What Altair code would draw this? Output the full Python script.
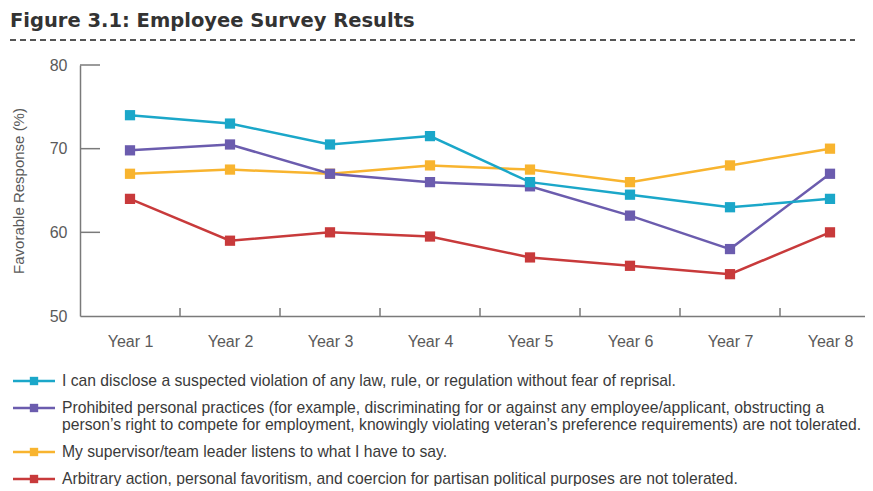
import json
import altair as alt
import pandas as pd

# ---- data ----
years = ["Year 1", "Year 2", "Year 3", "Year 4", "Year 5", "Year 6", "Year 7", "Year 8"]

series_names = [
    "I can disclose a suspected violation of any law, rule, or regulation without fear of reprisal.",
    "Prohibited personal practices (for example, discriminating for or against any employee/applicant, obstructing a\nperson\u2019s right to compete for employment, knowingly violating veteran\u2019s preference requirements) are not tolerated.",
    "My supervisor/team leader listens to what I have to say.",
    "Arbitrary action, personal favoritism, and coercion for partisan political purposes are not tolerated.",
]
series_colors = ["#1ba7c9", "#6b5cae", "#f8b42f", "#c83a3b"]

disclose = [74, 73, 70.5, 71.5, 66, 64.5, 63, 64]
prohibited = [69.8, 70.5, 67, 66, 65.5, 62, 58, 67]
supervisor = [67, 67.5, 67, 68, 67.5, 66, 68, 70]
arbitrary = [64, 59, 60, 59.5, 57, 56, 55, 60]

y_ticks = [50, 60, 70, 80]

title_text = "Figure 3.1: Employee Survey Results"
y_title = "Favorable Response (%)"

# ---- tables ----
values_by_series = [disclose, prohibited, supervisor, arbitrary]
rows = []
# draw order: red, yellow, purple, teal (teal on top)
for idx in [3, 2, 1, 0]:
    for k, (yr, v) in enumerate(zip(years, values_by_series[idx])):
        rows.append({"series": series_names[idx], "year": yr, "pos": k + 1, "value": v})
df = pd.DataFrame(rows)

W, H = 785, 251
AXIS_GRAY = "#7a7a7a"
TEXT_GRAY = "#5a5a5a"
AX_FONT = "Liberation Sans"
LEG_FONT = "Liberation Sans"

xscale = alt.Scale(domain=[0.5, 8.35], nice=False, zero=False)
yscale = alt.Scale(domain=[50, 80], nice=False, zero=False)
cscale = alt.Scale(domain=series_names, range=series_colors)

label_expr = json.dumps(years) + "[datum.value - 1]"
x_enc = alt.X("pos:Q", scale=xscale,
              axis=alt.Axis(values=list(range(1, len(years) + 1)), labelExpr=label_expr,
                            title=None, ticks=False, grid=False, labelPadding=17,
                            labelFontSize=16, labelColor=TEXT_GRAY, labelFont=AX_FONT,
                            domainColor=AXIS_GRAY, domainWidth=1.5, labelAngle=0,
                            labelFlush=False, labelOverlap=False))
y_enc = alt.Y("value:Q", scale=yscale,
              axis=alt.Axis(values=y_ticks, ticks=False, grid=False, labelPadding=13,
                            labelFontSize=16, labelColor=TEXT_GRAY, labelFont=AX_FONT,
                            domainColor=AXIS_GRAY, domainWidth=1.5,
                            title=y_title, titleFontSize=15, titleFontWeight="normal",
                            titleColor=TEXT_GRAY, titleFont=AX_FONT,
                            titleX=-62, titleY=H / 2, titleAlign="center",
                            titleBaseline="middle", titleAngle=-90))
c_enc = alt.Color("series:N", scale=cscale, legend=None)

base = alt.Chart(df)
lines = base.mark_line(strokeWidth=2.5).encode(x=x_enc, y=y_enc, color=c_enc, detail="series:N")
points = base.mark_square(size=105, opacity=1).encode(
    x=alt.X("pos:Q", scale=xscale), y=alt.Y("value:Q", scale=yscale), color=c_enc)

# inward y ticks
ytick_df = pd.DataFrame({"value": y_ticks[1:]})
yticks = alt.Chart(ytick_df).mark_rule(color=AXIS_GRAY, strokeWidth=1.5).encode(
    y=alt.Y("value:Q", scale=yscale), x=alt.value(0), x2=alt.value(20))

# upward x ticks between the year categories
xtick_df = pd.DataFrame({"pos": [k + 1.5 for k in range(len(years) - 1)]})
xticks = alt.Chart(xtick_df).mark_rule(color=AXIS_GRAY, strokeWidth=1.5).encode(
    x=alt.X("pos:Q", scale=xscale), y=alt.value(H - 8), y2=alt.value(H))

# title and dashed rule under it
one = pd.DataFrame({"t": [title_text]})
title = alt.Chart(one).mark_text(align="left", baseline="alphabetic", fontSize=19.5,
                                 fontWeight="bold", font="DejaVu Sans", color="#333333").encode(
    text="t:N", x=alt.value(-70), y=alt.value(-38))
dash = alt.Chart(one).mark_rule(
    color="#555555", strokeWidth=2, strokeDash=[6, 4]).encode(
    x=alt.value(-70), x2=alt.value(775), y=alt.value(-25))

# custom legend
legend_layers = []
LEG_Y0 = 316
ROW = 27
LINE_H = 17
offset = 0
for i, name in enumerate(series_names):
    yy = LEG_Y0 + i * ROW + offset
    ldf = pd.DataFrame({"series": [name]})
    lc = alt.Chart(ldf)
    legend_layers.append(lc.mark_rule(strokeWidth=2.5).encode(
        color=c_enc, x=alt.value(-67), x2=alt.value(-25), y=alt.value(yy)))
    legend_layers.append(lc.mark_square(size=70, opacity=1).encode(
        color=c_enc, x=alt.value(-46), y=alt.value(yy)))
    legend_layers.append(lc.mark_text(align="left", baseline="middle", lineBreak="\n",
                                      lineHeight=LINE_H, fontSize=15.7, color="#3a3a3a",
                                      font=LEG_FONT).encode(
        text="series:N", x=alt.value(-18), y=alt.value(yy)))
    offset += (name.count("\n")) * LINE_H

chart = alt.layer(title, dash, xticks, yticks, lines, points, *legend_layers).properties(
    width=W, height=H,
    autosize=alt.AutoSizeParams(type="none"),
    padding={"left": 72, "top": 57, "right": 0, "bottom": 170},
).configure_view(stroke=None)

chart.save("out.html", embed_options={"renderer": "svg", "actions": False})
